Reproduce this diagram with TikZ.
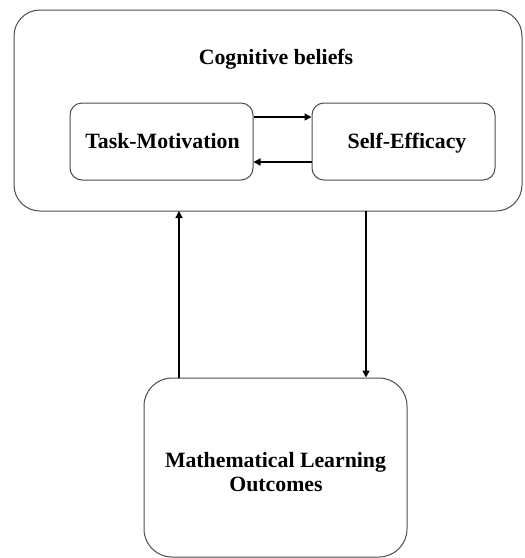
\documentclass[tikz,border=0pt]{standalone}
\usepackage{fontspec}
\setmainfont{Liberation Serif}
\usetikzlibrary{arrows.meta}
\begin{document}
\begin{tikzpicture}[x=1pt,y=-1pt,
  frame/.style={draw=black!70, line width=1pt},
  lbl/.style={font=\fontsize{21.8}{25}\selectfont\bfseries, anchor=base, inner sep=0pt},
  link/.style={draw=black, line width=1.4pt, -{Triangle[length=7pt,width=7pt]}}]
  \useasboundingbox (0,0) rectangle (525,558);
  % outer group
  \draw[frame, rounded corners=26pt] (14,10) rectangle (522,211);
  \node[lbl] (title) at (276,64) {Cognitive beliefs};
  % inner boxes
  \node[frame, rounded corners=12pt, minimum width=183pt, minimum height=77pt, inner sep=0pt] (tm) at (161.5,141.5) {};
  \node[lbl] (tmtext) at (162.5,148) {Task-Motivation};
  \node[frame, rounded corners=12pt, minimum width=183pt, minimum height=77pt, inner sep=0pt] (se) at (403.5,141.5) {};
  \node[lbl] (setext) at (407,148) {Self-Efficacy};
  % outcome box
  \node[frame, rounded corners=28pt, minimum width=263pt, minimum height=179pt, inner sep=0pt] (mlo) at (275.5,467.5) {};
  \node[lbl] (mlo1) at (275.5,467) {Mathematical Learning};
  \node[lbl] (mlo2) at (276,491) {Outcomes};
  % connectors
  \draw[link] (tm.east |- 0,117) -- (se.west |- 0,117);
  \draw[link] (se.west |- 0,162) -- (tm.east |- 0,162);
  \draw[link] (mlo.north -| 179,0) -- (179,211);
  \draw[link] (366,211) -- (mlo.north -| 366,0);
\end{tikzpicture}
\end{document}
